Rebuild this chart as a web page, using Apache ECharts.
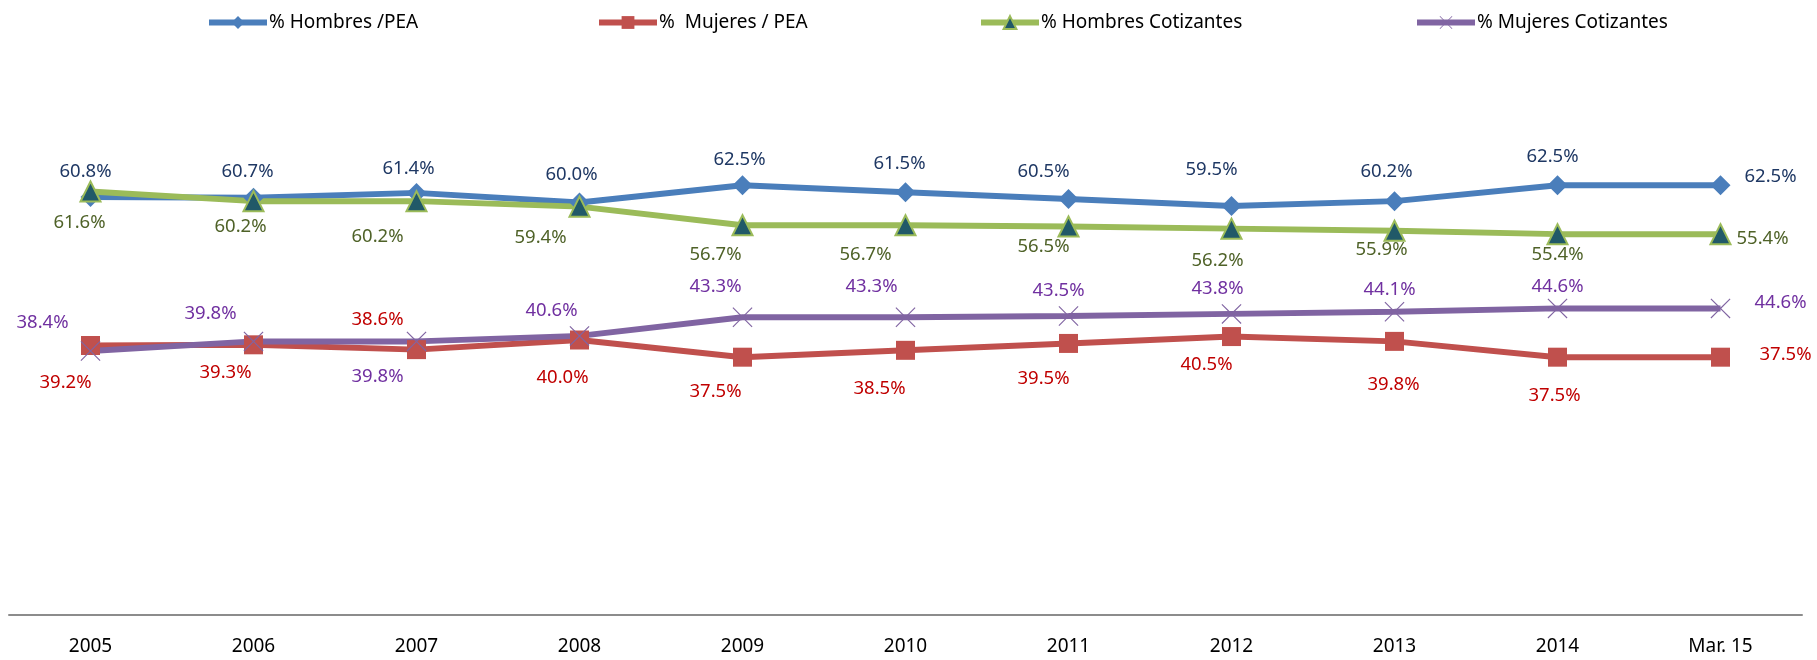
<!DOCTYPE html>
<html>
<head>
<meta charset="utf-8">
<style>
  html, body { margin: 0; padding: 0; background: #fff; }
  #main { width: 1817px; height: 660px; }
</style>
<script src="https://cdn.jsdelivr.net/npm/echarts@6.0.0/dist/echarts.min.js"></script>
</head>
<body>
<div id="main"></div>
<script>
var categorias = ['2005', '2006', '2007', '2008', '2009', '2010', '2011', '2012', '2013', '2014', 'Mar. 15'];
var hombresPEA = [60.8, 60.7, 61.4, 60.0, 62.5, 61.5, 60.5, 59.5, 60.2, 62.5, 62.5];
var mujeresPEA = [39.2, 39.3, 38.6, 40.0, 37.5, 38.5, 39.5, 40.5, 39.8, 37.5, 37.5];
var hombresCot = [61.6, 60.2, 60.2, 59.4, 56.7, 56.7, 56.5, 56.2, 55.9, 55.4, 55.4];
var mujeresCot = [38.4, 39.8, 39.8, 40.6, 43.3, 43.3, 43.5, 43.8, 44.1, 44.6, 44.6];

// desplazamiento de cada etiqueta respecto al punto (px)
var offHP = [[-5,-25],[-6,-26],[-8,-24],[-8,-28],[-3,-26],[-6,-28],[-25,-27],[-20,-36],[-8,-29],[-5,-29],[50,-9]];
var offMP = [[-25,37],[-28,28],[-39,-30],[-17,38],[-27,35],[-26,38],[-25,35],[-25,28],[-1,43],[-3,39],[65,-2]];
var offHC = [[-11,31],[-13,26],[-39,36],[-39,31],[-27,30],[-40,30],[-25,20],[-14,32],[-13,19],[0,21],[42,5]];
var offMC = [[-48,-28],[-43,-28],[-39,35],[-28,-25],[-27,-31],[-34,-31],[-10,-25],[-14,-25],[-5,-22],[0,-22],[60,-6]];

var fuente = '"Noto Sans", sans-serif';
var cruz = 'path://M0,0.8L0.8,0L10,9.2L19.2,0L20,0.8L10.8,10L20,19.2L19.2,20L10,10.8L0.8,20L0,19.2L9.2,10Z';

function puntos(valores, offs) {
    return valores.map(function (v, i) {
        return { value: v, label: { offset: offs[i] } };
    });
}

function serie(nombre, valores, offs, color, colorTexto, simbolo, tam, estilo) {
    return {
        name: nombre,
        type: 'line',
        data: puntos(valores, offs),
        symbol: simbolo,
        symbolSize: tam,
        showAllSymbol: true,
        lineStyle: { color: color, width: 6 },
        itemStyle: estilo,
        label: {
            show: true,
            position: 'inside',
            color: colorTexto,
            fontFamily: fuente,
            fontSize: 18.5,
            formatter: function (p) { return p.value.toFixed(1) + '%'; }
        },
        emphasis: { disabled: true },
        animation: false
    };
}

function leyenda(nombre, izq) {
    return {
        data: [nombre],
        left: izq,
        top: 8,
        itemWidth: 58,
        itemHeight: 16,
        itemGap: 0,
        lineStyle: { width: 6 },
        textStyle: { fontFamily: fuente, fontSize: 19, color: '#000', padding: [0, 0, 0, -3] }
    };
}

var myChart = echarts.init(document.getElementById('main'));

option = {
    backgroundColor: '#fff',
    legend: [
        leyenda('% Hombres /PEA', 201),
        leyenda('%  Mujeres / PEA', 591),
        leyenda('% Hombres Cotizantes', 973),
        leyenda('% Mujeres Cotizantes', 1409)
    ],
    grid: { left: 9, right: 15, top: 65, bottom: 45 },
    xAxis: {
        type: 'category',
        data: categorias,
        boundaryGap: true,
        axisLine: { lineStyle: { color: '#8c8c8c', width: 2 } },
        axisTick: { show: false },
        axisLabel: { color: '#000', fontFamily: fuente, fontSize: 19, margin: 22 }
    },
    yAxis: {
        type: 'value',
        min: 0,
        max: 80,
        show: false,
        splitLine: { show: false }
    },
    series: [
        serie('% Hombres /PEA', hombresPEA, offHP, '#4a7ebb', '#1f3864', 'diamond', 20,
            { color: '#4a7ebb' }),
        serie('%  Mujeres / PEA', mujeresPEA, offMP, '#c0504d', '#c00000', 'rect', 19,
            { color: '#c0504d' }),
        serie('% Hombres Cotizantes', hombresCot, offHC, '#9bbb59', '#4f6228', 'triangle', 20,
            { color: '#215968', borderColor: '#9bbb59', borderWidth: 2 }),
        serie('% Mujeres Cotizantes', mujeresCot, offMC, '#8064a2', '#7030a0', cruz, 20,
            { color: '#8064a2' })
    ]
};
myChart.setOption(option);
</script>
</body>
</html>
